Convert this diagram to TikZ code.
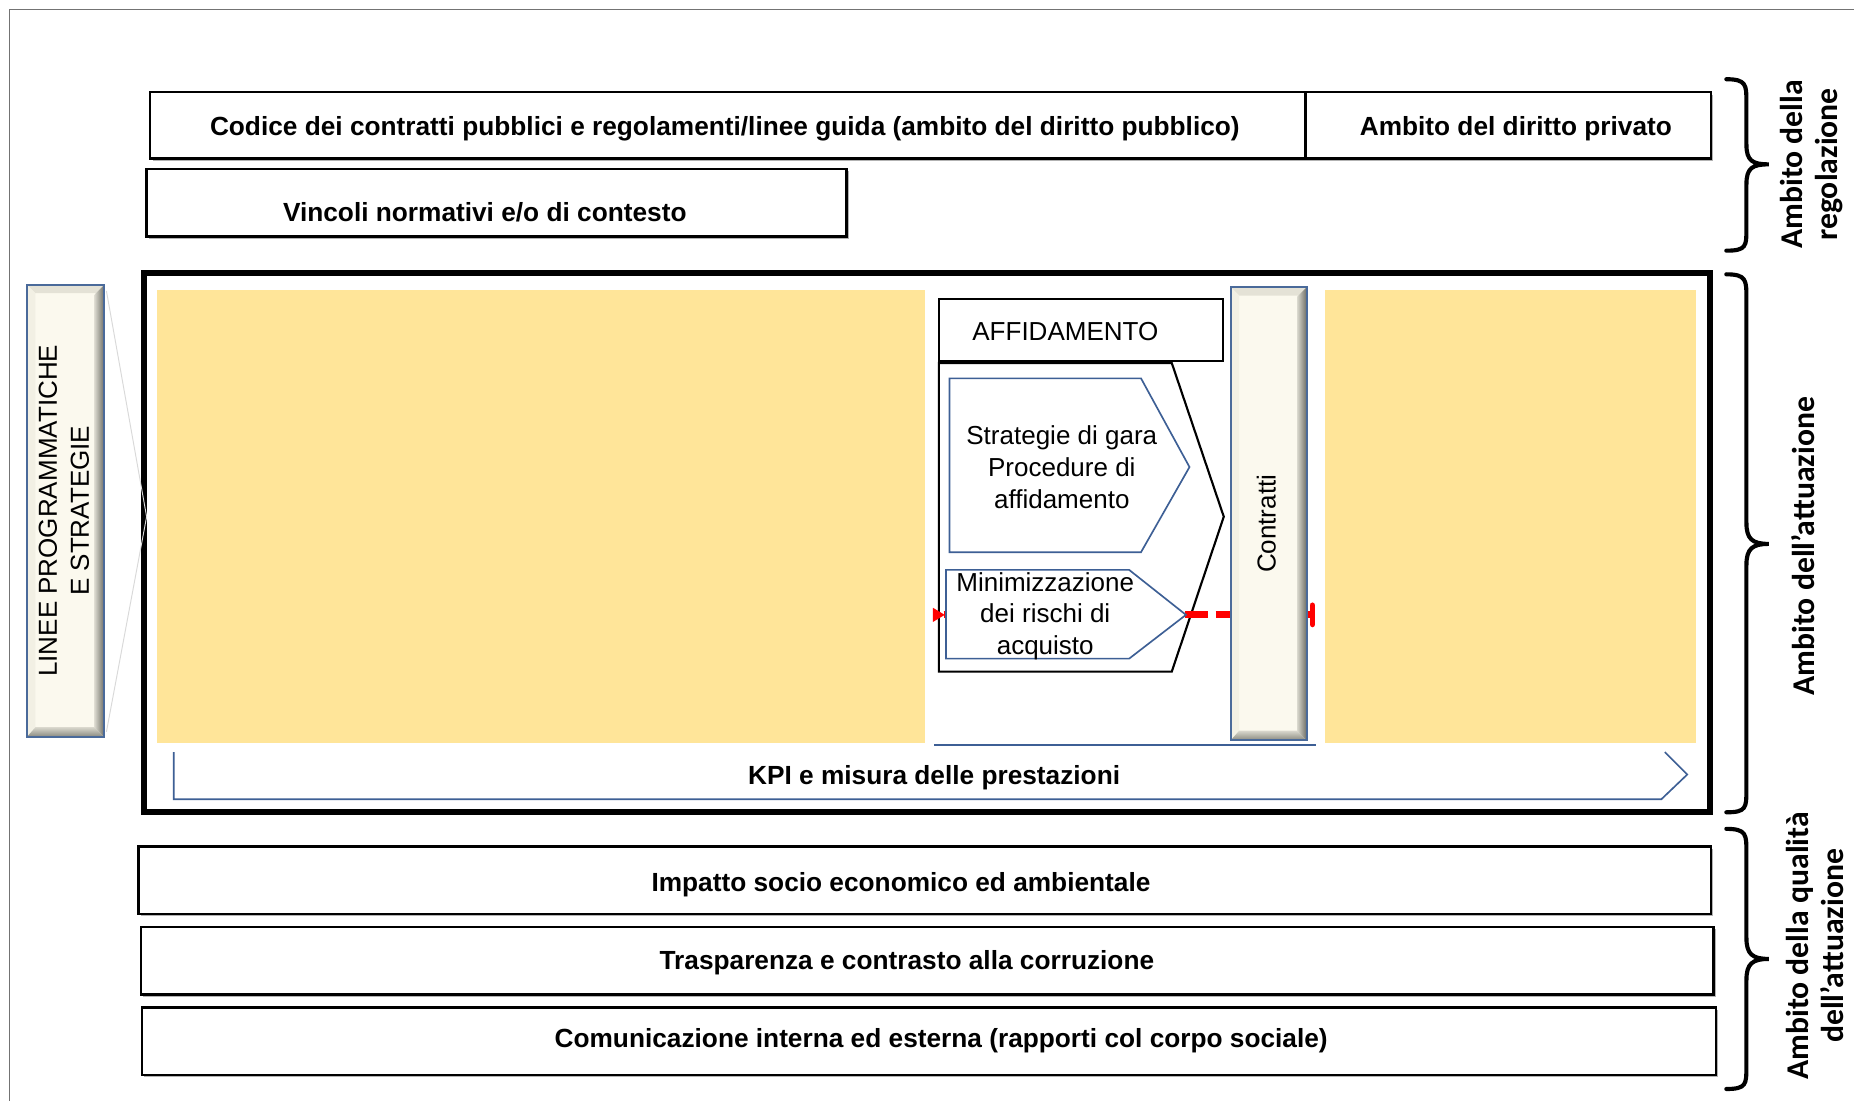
\documentclass[tikz,border=0pt]{standalone}
\usepackage{fontspec}
\setmainfont{Liberation Sans}
\newfontfamily\calibrifont{Carlito}
\definecolor{cream}{HTML}{FBF9EE}
\definecolor{bevdark}{HTML}{8A8A80}
\definecolor{bevlight}{HTML}{E4E2D6}
\definecolor{bordblue}{HTML}{4A6A9A}
\definecolor{kpiblue}{HTML}{3D5F95}
\definecolor{zone}{HTML}{FFE599}
\definecolor{redline}{HTML}{FF0000}
\newcommand\bevelbox[4]{%
  \fill[cream] (#1,#2) rectangle (#3,#4);
  \fill[bevlight] (#1,#2) -- (#3,#2) -- ({#3-7},{#2+7}) -- ({#1+7},{#2+7}) -- cycle;
  \fill[cream!60!bevlight] (#1,#2) -- ({#1+7},{#2+7}) -- ({#1+7},{#4-7}) -- (#1,#4) -- cycle;
  \shade[left color=cream!70!bevdark, right color=bevdark!80!black] (#3,#2) -- (#3,#4) -- ({#3-8},{#4-8}) -- ({#3-8},{#2+8}) -- cycle;
  \shade[top color=cream!70!bevdark, bottom color=bevdark] (#1,#4) -- (#3,#4) -- ({#3-8},{#4-8}) -- ({#1+7},{#4-8}) -- cycle;
  \draw[bordblue, line width=1.6pt] (#1,#2) rectangle (#3,#4);
}
\tikzset{
  box/.style={draw=black, line width=2pt, fill=white},
  shadowbox/.style={fill=black!30},
  lbl/.style={font=\fontsize{22.2}{26}\selectfont\bfseries, inner sep=0pt, yshift=-2.5pt},
  reg/.style={font=\fontsize{22}{27}\selectfont, align=center, inner sep=0pt},
  side/.style={font=\calibrifont\fontsize{26.8}{30}\selectfont\bfseries, rotate=90, align=center, inner sep=0pt},
  blueln/.style={draw=kpiblue, line width=1.4pt},
  bracestyle/.style={draw=black, line width=3.5pt, line cap=round}
}
\begin{document}
\begin{tikzpicture}[x=1pt,y=-1pt]
\useasboundingbox (0,0) rectangle (1568,931);
\fill[white] (0,0) rectangle (1568,931);
% outer frame
\draw[black!55, line width=1.6pt] (8,931) -- (8,8) -- (1568,8);

% top boxes
\fill[shadowbox] (129,80) rectangle (1449,136);
\draw[box] (127,78) rectangle (1104,134);
\draw[box] (1104,78) rectangle (1447,134);
\node[lbl] (codice) at (613,106) {Codice dei contratti pubblici e regolamenti/linee guida (ambito del diritto pubblico)};
\node[lbl] (privato) at (1282,106) {Ambito del diritto privato};
\fill[shadowbox] (126,145) rectangle (718,202);
\draw[box] (124,143) rectangle (716,200);
\node[lbl] (vincoli) at (410,177) {Vincoli normativi e/o di contesto};

% central frame
\draw[black, line width=5pt] (122,231) rectangle (1446,687);
\fill[zone] (133,245) rectangle (782,628);
\fill[zone] (1121,245) rectangle (1434,628);

% linee programmatiche
\draw[black!15, line width=0.8pt] (90,246) -- (124,437) -- (90,619);
\bevelbox{23}{241}{88}{623}
\node[reg, rotate=90] (linee) at (54,432) {LINEE PROGRAMMATICHE\\E STRATEGIE};

% affidamento
\draw[black, line width=1.8pt, fill=white] (794,253) rectangle (1034,305);
\node[reg, yshift=-1pt] (affid) at (901,279) {AFFIDAMENTO};
\draw[black, line width=1.8pt] (794,307) -- (991,307) -- (1035,437) -- (991,568) -- (794,568) -- cycle;

% red dashed link
\draw[redline, line width=6pt, dash pattern=on 20pt off 6pt, dash phase=4pt] (798,520) -- (1108,520);
\fill[redline] (789,514) -- (799,520) -- (789,526) -- cycle;
\draw[redline, line width=5pt, line cap=round] (1110,512) -- (1110,528);

\draw[blueln, fill=white] (803,320) -- (965,320) -- (1006,395) -- (965,467) -- (803,467) -- cycle;
\node[reg, yshift=-1pt] (strat) at (898,394) {Strategie di gara\\Procedure di\\affidamento};
\draw[blueln, fill=white] (800,482) -- (955,482) -- (1003,520) -- (955,557) -- (800,557) -- cycle;
\node[reg, font=\fontsize{22}{26.5}\selectfont, yshift=-2pt] (minim) at (884,519) {Minimizzazione\\dei rischi di\\acquisto};

% contratti
\bevelbox{1041}{243}{1105}{626}
\node[reg, rotate=90] (contr) at (1071,443) {Contratti};
\draw[blueln] (790,630) -- (1113,630);

% KPI
\draw[blueln] (1408,636) -- (1427,655) -- (1405,676) -- (147,676) -- (147,636);
\node[lbl] (kpi) at (790,655) {KPI e misura delle prestazioni};

% bottom boxes
\fill[shadowbox] (119,718) rectangle (1449,775);
\draw[box] (117,716) rectangle (1447,773);
\node[lbl] (impatto) at (762,746) {Impatto socio economico ed ambientale};
\fill[shadowbox] (121,786) rectangle (1451,843);
\draw[box] (119,784) rectangle (1449,841);
\node[lbl] (traspa) at (767,812) {Trasparenza e contrasto alla corruzione};
\fill[shadowbox] (122,854) rectangle (1453,911);
\draw[box] (120,852) rectangle (1451,909);
\node[lbl] (comun) at (796,878) {Comunicazione interna ed esterna (rapporti col corpo sociale)};

% braces
\draw[bracestyle] (1460,67) .. controls (1477,67) and (1477,72) .. (1477,86) -- (1477,122) .. controls (1477,136) and (1482,139) .. (1496,139) .. controls (1482,139) and (1477,142) .. (1477,156) -- (1477,194) .. controls (1477,208) and (1477,212) .. (1460,212);
\draw[bracestyle] (1460,232) .. controls (1477,232) and (1477,237) .. (1477,252) -- (1477,442) .. controls (1477,456) and (1482,460) .. (1496,460) .. controls (1482,460) and (1477,464) .. (1477,478) -- (1477,668) .. controls (1477,683) and (1477,687) .. (1460,687);
\draw[bracestyle] (1460,701) .. controls (1477,701) and (1477,706) .. (1477,720) -- (1477,793) .. controls (1477,807) and (1482,811) .. (1496,811) .. controls (1482,811) and (1477,815) .. (1477,829) -- (1477,902) .. controls (1477,917) and (1477,921) .. (1460,921);
\node[side] (reg) at (1532,139) {Ambito della\\regolazione};
\node[side] (att) at (1525,462) {Ambito dell’attuazione};
\node[side] (qual) at (1535,800) {Ambito della qualità\\dell’attuazione};
\end{tikzpicture}
\end{document}
